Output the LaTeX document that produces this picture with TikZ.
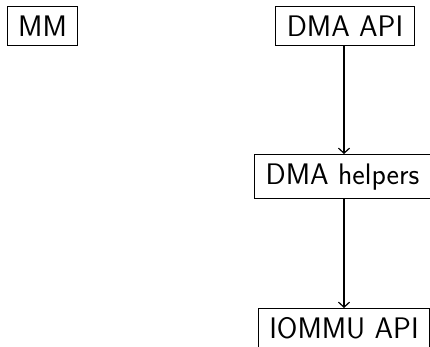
\documentclass[tikz,border=0pt]{standalone}
\usetikzlibrary{arrows.meta}
\begin{document}
\begin{tikzpicture}[x=1pt,y=1pt,
  box/.style={draw, line width=0.9pt, font=\fontsize{29.7}{35}\selectfont\sffamily, inner xsep=11pt, inner ysep=9pt, anchor=north},
  link/.style={-{Straight Barb[length=5pt,width=11pt]}, line width=1.2pt}]
\useasboundingbox (0,0) rectangle (430,347);
\node[box] (mm) at (42.5,341) {MM};
\node[box] (dma) at (345,341) {DMA API};
\node[box] (help) at (342.5,193) {DMA helpers};
\node[box] (iommu) at (344,39) {IOMMU API};
\draw[link] (344,0 |- dma.south) coordinate (d1) -- (d1 |- help.north);
\draw[link] (344,0 |- help.south) coordinate (h1) -- (h1 |- iommu.north);
\end{tikzpicture}
\end{document}
